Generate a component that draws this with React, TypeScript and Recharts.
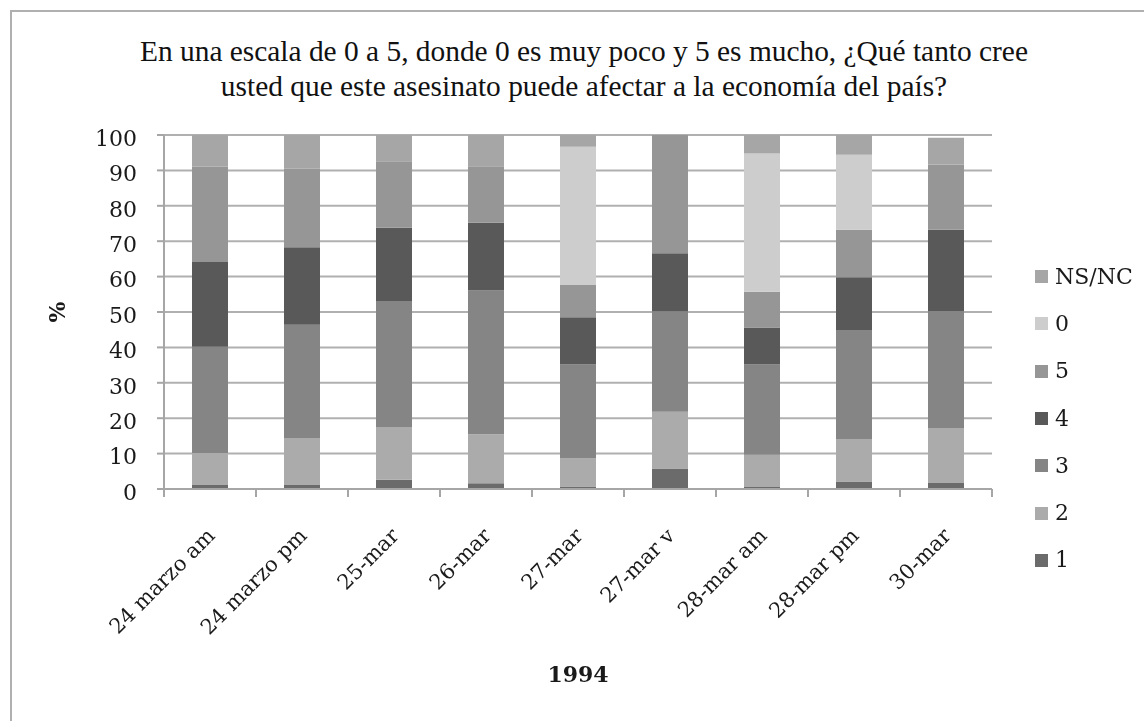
import React from 'react';
import { BarChart, Bar, XAxis, YAxis, CartesianGrid, Legend } from 'recharts';

const categories = ['24 marzo am', '24 marzo pm', '25-mar', '26-mar', '27-mar', '27-mar v', '28-mar am', '28-mar pm', '30-mar'];
const s1 = [1.1, 1.1, 2.6, 1.6, 0.7, 5.8, 0.6, 2.1, 1.7];
const s2 = [9.1, 13.3, 14.9, 13.9, 7.9, 16.0, 9.1, 12.0, 15.5];
const s3 = [30.0, 32.0, 35.6, 40.6, 26.6, 28.4, 25.5, 30.8, 33.1];
const s4 = [23.9, 21.9, 20.7, 19.1, 13.3, 16.4, 10.4, 14.9, 22.9];
const s5 = [26.9, 22.2, 18.8, 16.0, 9.1, 33.4, 10.1, 13.4, 18.5];
const s0 = [0, 0, 0, 0, 39.1, 0, 39.1, 21.2, 0];
const sNS = [9.0, 9.5, 7.4, 8.8, 3.3, 0, 5.2, 5.6, 7.5];
const yTicks = [0, 10, 20, 30, 40, 50, 60, 70, 80, 90, 100];

const series = [
  { key: '1', values: s1, color: '#6b6b6b' },
  { key: '2', values: s2, color: '#ababab' },
  { key: '3', values: s3, color: '#858585' },
  { key: '4', values: s4, color: '#595959' },
  { key: '5', values: s5, color: '#969696' },
  { key: '0', values: s0, color: '#cdcdcd' },
  { key: 'NS/NC', values: sNS, color: '#a6a6a6' },
];
const seriesOrder = series.map((s) => s.key);

const data = categories.map((c, i) => {
  const row: any = { name: c };
  series.forEach((s) => { row[s.key] = s.values[i]; });
  return row;
});

const FONT = '"DejaVu Serif", serif';
const AXIS = '#a6a6a6';

const XTick = (props: any) => {
  const { x, y, payload, index, visibleTicksCount } = props;
  const off = payload && typeof payload.offset === 'number' ? payload.offset : 46;
  const last = index === (visibleTicksCount ?? categories.length) - 1;
  const tx = x + 6;
  const ty = y + 48;
  return (
    <g>
      <line x1={x - off} x2={x - off} y1={y} y2={y + 8} stroke={AXIS} strokeWidth={2} />
      {last && <line x1={x + off} x2={x + off} y1={y} y2={y + 8} stroke={AXIS} strokeWidth={2} />}
      <text
        x={tx}
        y={ty}
        textAnchor="end"
        transform={`rotate(-45, ${tx}, ${ty})`}
        fontFamily={FONT}
        fontSize={21}
        fill="#1a1a1a"
      >
        {payload.value}
      </text>
    </g>
  );
};

const LegendContent = (props: any) => {
  const items = [...(props.payload || [])].sort(
    (a: any, b: any) => seriesOrder.indexOf(String(b.value)) - seriesOrder.indexOf(String(a.value))
  );
  return (
    <div style={{ fontFamily: FONT, fontSize: 22, color: '#1a1a1a' }}>
      {items.map((it: any) => (
        <div key={it.value} style={{ height: 47.3, display: 'flex', alignItems: 'center' }}>
          <span style={{ display: 'inline-block', width: 13, height: 13, background: it.color, marginRight: 7 }} />
          <span style={{ lineHeight: '24px' }}>{it.value}</span>
        </div>
      ))}
    </div>
  );
};

export default function App() {
  return (
    <div style={{ position: 'relative', width: 1128, height: 705, background: '#fff' }}>
      <div style={{ position: 'fixed', left: 10, top: 10, width: 1134, height: 2, background: '#b0b0b0' }} />
      <div style={{ position: 'fixed', left: 10, top: 10, width: 2, height: 711, background: '#b0b0b0' }} />
      <div
        style={{
          position: 'absolute', left: 26, top: 26, width: 1100, textAlign: 'center',
          fontFamily: '"Liberation Serif", "Times New Roman", serif', fontSize: 29.4, lineHeight: '35px', color: '#111',
        }}
      >
        En una escala de 0 a 5, donde 0 es muy poco y 5 es mucho, ¿Qué tanto cree
        <br />
        usted que este asesinato puede afectar a la economía del país?
      </div>
      <div style={{ position: 'absolute', left: 0, top: 0 }}>
        <BarChart
          width={1128}
          height={705}
          data={data}
          margin={{ top: 127, right: 144, bottom: 164, left: 0 }}
          barSize={36}
          style={{ fontFamily: FONT }}
        >
          <CartesianGrid horizontal vertical={false} stroke="#b0b0b0" strokeWidth={2} />
          <XAxis
            dataKey="name"
            height={60}
            interval={0}
            tickLine={false}
            tickSize={0}
            tickMargin={0}
            axisLine={{ stroke: AXIS, strokeWidth: 2 }}
            tick={<XTick />}
            label={{
              content: (p: any) => {
                const vb = p.viewBox || {};
                return (
                  <text x={vb.x + vb.width / 2} y={vb.y + 193} textAnchor="middle" fontFamily={FONT} fontWeight="bold" fontSize={22} fill="#1a1a1a">
                    1994
                  </text>
                );
              },
            }}
          />
          <YAxis
            width={156}
            domain={[0, 100]}
            ticks={yTicks}
            interval={0}
            tickSize={7}
            tickMargin={20}
            tickLine={{ stroke: AXIS, strokeWidth: 2 }}
            axisLine={{ stroke: AXIS, strokeWidth: 2 }}
            tick={{ fontFamily: FONT, fontSize: 22, fill: '#1a1a1a', dy: 3 }}
            label={{
              content: (p: any) => {
                const vb = p.viewBox || {};
                const cx = 49;
                const cy = vb.y + vb.height / 2;
                return (
                  <text x={cx} y={cy} textAnchor="middle" dominantBaseline="central" transform={`rotate(-90, ${cx}, ${cy})`} fontFamily={FONT} fontWeight="bold" fontSize={22} fill="#1a1a1a">
                    %
                  </text>
                );
              },
            }}
          />
          <Legend
            layout="vertical"
            align="center"
            verticalAlign="middle"
            wrapperStyle={{ left: 1027, top: 245, width: 100 }}
            content={<LegendContent />}
          />
          {series.map((s) => (
            <Bar key={s.key} dataKey={s.key} name={s.key} stackId="a" fill={s.color} isAnimationActive={false} />
          ))}
        </BarChart>
      </div>
    </div>
  );
}
